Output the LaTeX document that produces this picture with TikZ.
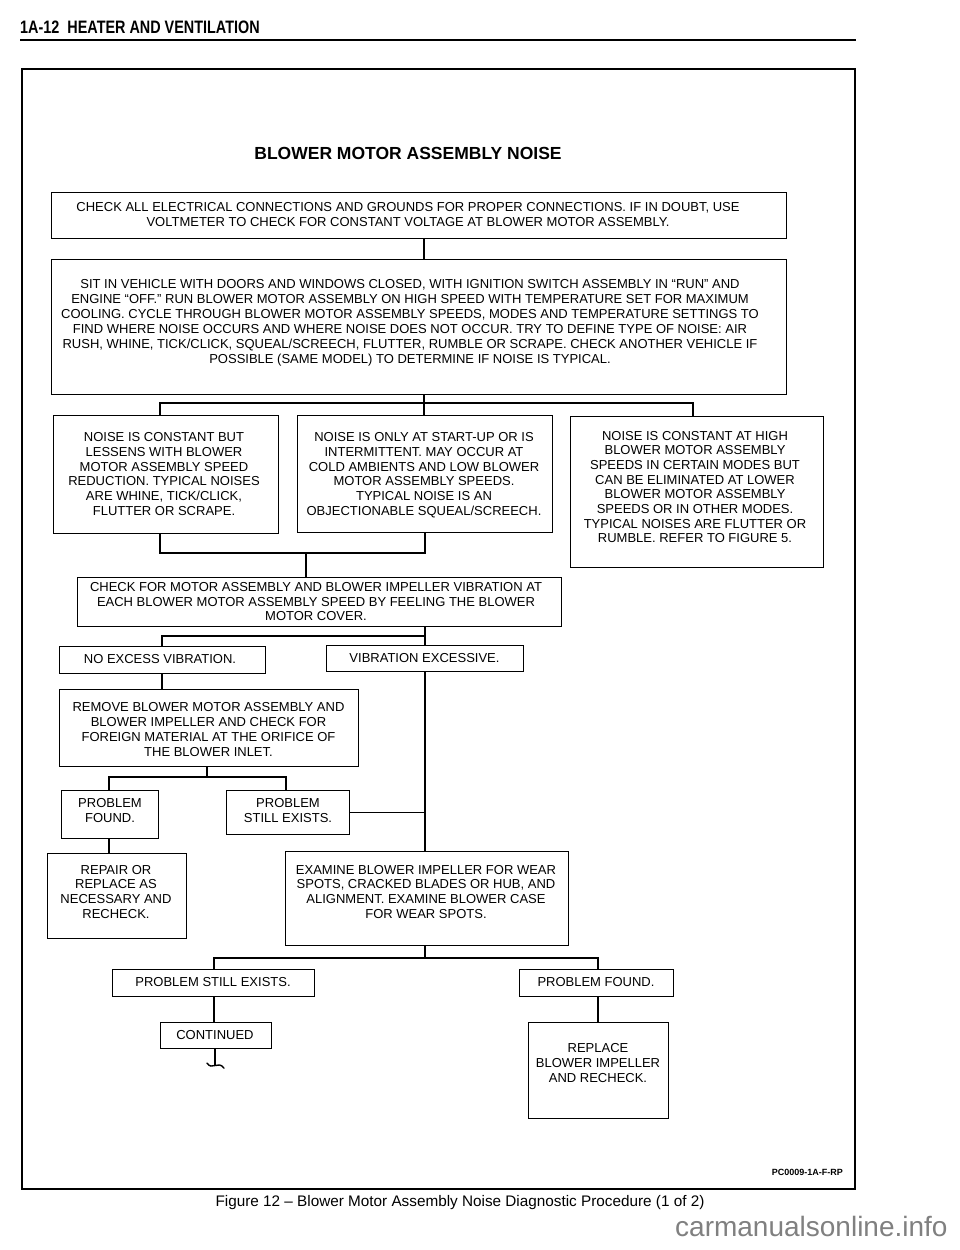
\documentclass[tikz,border=0pt]{standalone}
\usepackage{graphicx}
\usepackage{fontspec}
\setmainfont{Liberation Sans}
\begin{document}
\begin{tikzpicture}[x=1pt,y=-1pt,
  bx/.style={draw, line width=1.4pt, inner sep=0pt, anchor=north west},
  txt/.style={font=\fontsize{13}{14.7}\selectfont, align=center, inner sep=0pt, text depth=0pt},
  conn/.style={line width=1.4pt}]
\useasboundingbox (0,0) rectangle (960,1250);
% header
\node[anchor=base west, inner sep=0pt] (hdr) at (20,33) {\scalebox{0.8}[1]{\fontsize{18}{18}\selectfont\bfseries 1A-12\ \ HEATER AND VENTILATION}};
\draw[line width=1.6pt] (20,40) -- (856,40);
% frame
\draw[line width=1.5pt] (22,69) rectangle (855,1189);
% title
\node[anchor=base, inner sep=0pt, font=\fontsize{17.5}{17.5}\selectfont\bfseries] (title) at (408,159) {BLOWER MOTOR ASSEMBLY NOISE};
% boxes
\newcommand\mkbox[5]{\node[bx, minimum width={#4-#2}, minimum height={#5-#3}] (#1) at (#2,#3) {};}
\mkbox{b1}{51}{192}{786}{238}
\mkbox{b2}{51}{259}{786}{394}
\mkbox{b3}{53}{415}{278}{533}
\mkbox{b4}{297}{415}{552}{532}
\mkbox{b5}{570}{416}{823}{567}
\mkbox{b6}{77}{577}{561}{626}
\mkbox{b7}{59}{646}{265}{673}
\mkbox{b8}{326}{645}{523}{671}
\mkbox{b9}{59}{689}{358}{766}
\mkbox{b10}{61}{790}{158}{838}
\mkbox{b11}{226}{790}{349}{834}
\mkbox{b12}{47}{853}{186}{938}
\mkbox{b13}{285}{851}{568}{945}
\mkbox{b14}{112}{969}{314}{996}
\mkbox{b15}{519}{969}{673}{996}
\mkbox{b16}{160}{1022}{271}{1048}
\mkbox{b17}{528}{1022}{668}{1118}
% texts
\node[txt] (t1) at (408,214.5) {CHECK ALL ELECTRICAL CONNECTIONS AND GROUNDS FOR PROPER CONNECTIONS. IF IN DOUBT, USE\\VOLTMETER TO CHECK FOR CONSTANT VOLTAGE AT BLOWER MOTOR ASSEMBLY.};
\node[txt, font=\fontsize{13}{15}\selectfont] (t2) at (410,321) {SIT IN VEHICLE WITH DOORS AND WINDOWS CLOSED, WITH IGNITION SWITCH ASSEMBLY IN “RUN” AND\\ENGINE “OFF.” RUN BLOWER MOTOR ASSEMBLY ON HIGH SPEED WITH TEMPERATURE SET FOR MAXIMUM\\COOLING. CYCLE THROUGH BLOWER MOTOR ASSEMBLY SPEEDS, MODES AND TEMPERATURE SETTINGS TO\\FIND WHERE NOISE OCCURS AND WHERE NOISE DOES NOT OCCUR. TRY TO DEFINE TYPE OF NOISE: AIR\\RUSH, WHINE, TICK/CLICK, SQUEAL/SCREECH, FLUTTER, RUMBLE OR SCRAPE. CHECK ANOTHER VEHICLE IF\\POSSIBLE (SAME MODEL) TO DETERMINE IF NOISE IS TYPICAL.};
\node[txt] (t3) at (164,474) {NOISE IS CONSTANT BUT\\LESSENS WITH BLOWER\\MOTOR ASSEMBLY SPEED\\REDUCTION. TYPICAL NOISES\\ARE WHINE, TICK/CLICK,\\FLUTTER OR SCRAPE.};
\node[txt] (t4) at (424,474) {NOISE IS ONLY AT START-UP OR IS\\INTERMITTENT. MAY OCCUR AT\\COLD AMBIENTS AND LOW BLOWER\\MOTOR ASSEMBLY SPEEDS.\\TYPICAL NOISE IS AN\\OBJECTIONABLE SQUEAL/SCREECH.};
\node[txt] (t5) at (695,487) {NOISE IS CONSTANT AT HIGH\\BLOWER MOTOR ASSEMBLY\\SPEEDS IN CERTAIN MODES BUT\\CAN BE ELIMINATED AT LOWER\\BLOWER MOTOR ASSEMBLY\\SPEEDS OR IN OTHER MODES.\\TYPICAL NOISES ARE FLUTTER OR\\RUMBLE. REFER TO FIGURE 5.};
\node[txt] (t6) at (316,601.5) {CHECK FOR MOTOR ASSEMBLY AND BLOWER IMPELLER VIBRATION AT\\EACH BLOWER MOTOR ASSEMBLY SPEED BY FEELING THE BLOWER\\MOTOR COVER.};
\node[txt] (t7) at (160,659) {NO EXCESS VIBRATION.};
\node[txt] (t8) at (424.5,658) {VIBRATION EXCESSIVE.};
\node[txt] (t9) at (208.5,729.5) {REMOVE BLOWER MOTOR ASSEMBLY AND\\BLOWER IMPELLER AND CHECK FOR\\FOREIGN MATERIAL AT THE ORIFICE OF\\THE BLOWER INLET.};
\node[txt] (t10) at (110,810.5) {PROBLEM\\FOUND.};
\node[txt] (t11) at (288,810.5) {PROBLEM\\STILL EXISTS.};
\node[txt] (t12) at (116,891.5) {REPAIR OR\\REPLACE AS\\NECESSARY AND\\RECHECK.};
\node[txt] (t13) at (426,891.5) {EXAMINE BLOWER IMPELLER FOR WEAR\\SPOTS, CRACKED BLADES OR HUB, AND\\ALIGNMENT. EXAMINE BLOWER CASE\\FOR WEAR SPOTS.};
\node[txt] (t14) at (213,982) {PROBLEM STILL EXISTS.};
\node[txt] (t15) at (596,982) {PROBLEM FOUND.};
\node[txt] (t16) at (215,1035) {CONTINUED};
\node[txt] (t17) at (598,1063) {REPLACE\\BLOWER IMPELLER\\AND RECHECK.};
% connector coordinates
\coordinate (cA) at (424,0);
\coordinate (bus1L) at (160,403);
\coordinate (bus1R) at (693,403);
\coordinate (bus2L) at (160,553);
\coordinate (bus2R) at (425,553);
\coordinate (m2) at (306,553);
\coordinate (bus3L) at (162,636);
\coordinate (bus3R) at (425,636);
\coordinate (bus4M) at (207,777);
\coordinate (bus4L) at (109,777);
\coordinate (bus4R) at (286,777);
\coordinate (bus5L) at (214,958);
\coordinate (bus5R) at (598,958);
\coordinate (sq) at (215,1066);
% connectors
\draw[conn] (b1.south -| cA) -- (b2.north -| cA);
\draw[conn] (b2.south -| cA) -- (b4.north -| cA);
\draw[conn] (bus1L |- b3.north) -- (bus1L) -- (bus1R) -- (bus1R |- b5.north);
\draw[conn] (bus2L |- b3.south) -- (bus2L) -- (bus2R) -- (bus2R |- b4.south);
\draw[conn] (m2) -- (m2 |- b6.north);
\draw[conn] (bus3R |- b6.south) -- (bus3R |- b8.north);
\draw[conn] (bus3R) -- (bus3L) -- (bus3L |- b7.north);
\draw[conn] (bus3R |- b8.south) -- (bus3R |- b13.north);
\draw[conn] (b11.east) -- (b11.east -| bus3R);
\draw[conn] (b7.south -| bus3L) -- (b9.north -| bus3L);
\draw[conn] (bus4M |- b9.south) -- (bus4M);
\draw[conn] (bus4L |- b10.north) -- (bus4L) -- (bus4R) -- (bus4R |- b11.north);
\draw[conn] (b10.south -| bus4L) -- (b12.north -| bus4L);
\draw[conn] (b13.south -| bus3R) -- (bus3R |- bus5L);
\draw[conn] (bus5L |- b14.north) -- (bus5L) -- (bus5R) -- (bus5R |- b15.north);
\draw[conn] (b14.south -| bus5L) -- (b16.north -| bus5L);
\draw[conn] (b15.south -| bus5R) -- (b17.north -| bus5R);
\draw[conn] (b16.south -| sq) -- (sq);
\draw[conn, line cap=round] (207,1063) .. controls (212,1071) and (218,1060) .. (224,1068);
% footer
\node[anchor=base east, inner sep=0pt, font=\fontsize{9}{9}\selectfont\bfseries] (code) at (843,1175) {PC0009-1A-F-RP};
\node[anchor=base, inner sep=0pt, font=\fontsize{15.3}{15.3}\selectfont] (caption) at (460,1206.5) {Figure 12 – Blower Motor Assembly Noise Diagnostic Procedure (1 of 2)};
\node[anchor=base west, inner sep=0pt, font=\fontsize{28}{28}\selectfont, text=black!50] (wm) at (675,1236) {carmanualsonline.info};
\end{tikzpicture}
\end{document}
